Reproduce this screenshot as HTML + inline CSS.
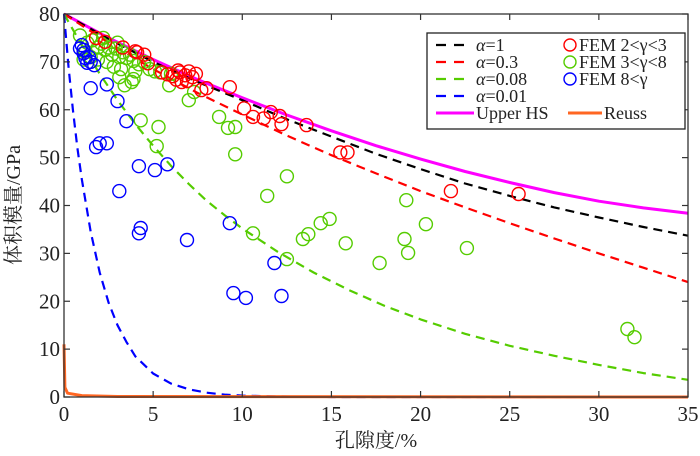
<!DOCTYPE html>
<html><head><meta charset="utf-8">
<style>
html,body{margin:0;padding:0;background:#fff;}
svg, svg text{font-family:"Liberation Serif","Times New Roman","DejaVu Serif","Noto Serif CJK SC",serif;}
svg{display:block;}
</style></head>
<body>
<svg id="chart" width="700" height="456" viewBox="0 0 700 456" font-family="Liberation Serif, Times New Roman, DejaVu Serif, Noto Serif CJK SC, serif">
  <g id="curves"></g>
  <g id="points"></g>
  <g id="axes"></g>
  <g id="legend"></g>
</svg>
<script>
// ---- data ----
const xTicks = [0,5,10,15,20,25,30,35];
const yTicks = [0,10,20,30,40,50,60,70,80];

const hsX = [0,2.5,5,7.5,10,12.5,15,17.5,20,22.5,25,27.5,30,32.5,35];
const hsY = [80,75,70.5,66.3,62.5,58.9,55.6,52.5,49.7,47.1,44.8,42.7,40.9,39.5,38.4];
const a1X = [0,2.5,5,7.5,10,12.5,15,17.5,20,22.5,25,27.5,30,32.5,35];
const a1Y = [80,74.8,70,65.8,62,58,54.4,50.8,47.6,44.6,42,39.6,37.5,35.5,33.7];
const a03X = [0,2.5,5,7.5,10,12.5,15,17.5,20,22.5,25,27.5,30,32.5,35];
const a03Y = [80,74,68.5,63.5,59,54.6,50.5,46.7,43,39.6,36.3,33.1,30,27,24];
const a008X = [0,1,2,3,4,5,6,7,8,9,10,12,14,16,18,20,22.5,25,27.5,30,32.5,35];
const a008Y = [80,73.5,67.5,62,57,52.5,48.3,44.5,41,38,35.2,30.3,26,22.3,19,16.2,13.2,10.7,8.6,6.7,5,3.6];
const a001X = [0,0.25,0.5,0.75,1,1.5,2,2.5,3,3.5,4,5,6,7,8,9,10,12,15,35];
const a001Y = [80,69,60,52,45.5,34.5,26,19.7,15,11.5,8.5,4.9,2.8,1.6,0.9,0.5,0.3,0.1,0,0];
const reussX = [0,0.05,0.2,1,3,35];
const reussY = [11,2,0.8,0.3,0.1,0];

const redX = [1.8,2.3,3.3,4.0,4.1,4.5,4.7,5.5,5.8,6.1,6.3,6.5,6.6,6.8,6.9,7.0,7.2,7.4,6.4,7.7,8.0,9.3,10.1,10.6,11.2,11.6,12.1,12.2,13.6,15.5,15.9,21.7,25.5];
const redY = [75,74.2,73,72.2,72,71.5,69.7,67.8,67.4,67,66.3,67.8,65.8,67.2,66,68,66.8,67.5,68.2,64.1,64.5,64.7,60.3,58.5,58.2,59.5,58.7,57,56.8,51.1,51.1,43.0,42.4];

const greenX = [0.9,1.3,1.6,1.9,2.1,2.3,2.5,2.7,2.9,3.1,3.3,3.5,3.7,3.9,4.2,4.5,4.8,5.1,5.4,1.2,1.5,1.9,2.4,2.8,3.2,1.1,4.0,2.2,3.0,6.0,3.4,3.9,5.9,7.0,7.3,8.7,9.2,9.6,4.3,5.3,3.1,3.8,5.2,9.6,12.5,11.4,10.6,13.4,13.7,14.4,14.9,15.8,12.5,19.2,20.3,19.1,19.3,22.6,17.7,31.6,32.0];
const greenY = [75.5,74,74.5,73,73.8,72.5,73,71.5,72.8,71,72,70.8,71.5,70.2,69.5,70,68.5,68,67.8,72,71,70.5,70,69,68.5,70.5,68,75,74,67.5,65.1,66.4,65.1,62,63.7,58.5,56.2,56.4,57.8,56.4,66.8,65.8,52.4,50.7,46.1,42.0,34.2,33,34,36.3,37.2,32.1,28.8,41.1,36.1,33,30.1,31.1,28,14.2,12.5];

const blueX = [1.0,1.1,1.1,1.2,1.3,1.5,1.7,0.9,1.4,1.5,2.4,3.0,3.5,1.8,2.0,2.4,4.2,5.1,5.8,3.1,4.3,4.2,6.9,9.3,11.8,9.5,10.2,12.2];
const blueY = [73.5,72.5,71.8,70.8,69.8,70,69.3,72.8,71,64.5,65.3,61.8,57.6,52.2,53,53,48.2,47.4,48.6,43,35.3,34.2,32.8,36.3,28,21.7,20.7,21.1];

// ---- scales ----
const X0=64, X1=688, Y0=397, Y1=14;
const sx = v => X0 + (v-0)/35*(X1-X0);
const sy = v => Y0 - v/80*(Y0-Y1);
const NS='http://www.w3.org/2000/svg';
const FF='Liberation Serif, Times New Roman, DejaVu Serif, Noto Serif CJK SC, serif';
function mk(tag, attrs, parent){const e=document.createElementNS(NS,tag);for(const k in attrs)e.setAttribute(k,attrs[k]);if(tag==='text')e.setAttribute('font-family',FF);parent.appendChild(e);return e;}

const curves=document.getElementById('curves');
function line(xs,ys,color,dash,name,w){
  const d=xs.map((x,i)=>(i?'L':'M')+sx(x).toFixed(1)+','+sy(ys[i]).toFixed(1)).join('');
  const p=mk('path',{d:d,fill:'none',stroke:color,'stroke-width':w||2.2,'stroke-dasharray':dash||'none','stroke-linejoin':'round'},curves);
  
  
}
line(hsX,hsY,'#ff00ff',null,'upper-hs-line',3);
line(a1X,a1Y,'#000000','9,6','alpha-1-line');
line(a03X,a03Y,'#ff0000','9,6','alpha-0.3-line');
line(a008X,a008Y,'#55cc00','9,6','alpha-0.08-line');
line(a001X,a001Y,'#0000ff','9,6','alpha-0.01-line');
line(reussX,reussY,'#ff6622',null,'reuss-line',3);

const pts=document.getElementById('points');
function scatter(xs,ys,color,name){
  xs.forEach((x,i)=>{
    const c=mk('circle',{cx:sx(x).toFixed(1),cy:sy(ys[i]).toFixed(1),r:6.5,fill:'none',stroke:color,'stroke-width':1.4},pts);
    
    
  });
}
scatter(greenX,greenY,'#55cc00','fem-3-8-point');
scatter(redX,redY,'#ff0000','fem-2-3-point');
scatter(blueX,blueY,'#0000ff','fem-8-point');

// axes
const ax=document.getElementById('axes');
const frame=mk('rect',{x:X0,y:Y1,width:X1-X0,height:Y0-Y1,fill:'none',stroke:'#333','stroke-width':1.3},ax);


xTicks.forEach(t=>{
  const x=sx(t);
  mk('line',{x1:x,x2:x,y1:Y0,y2:Y0-6,stroke:'#333','stroke-width':1.2},ax);
  mk('line',{x1:x,x2:x,y1:Y1,y2:Y1+6,stroke:'#333','stroke-width':1.2},ax);
  const tx=mk('text',{x:x,y:Y0+24,'text-anchor':'middle','font-size':21,fill:'#222'},ax);
  tx.textContent=t;
  
  
});
yTicks.forEach(t=>{
  const y=sy(t);
  mk('line',{x1:X0,x2:X0+6,y1:y,y2:y,stroke:'#333','stroke-width':1.2},ax);
  mk('line',{x1:X1,x2:X1-6,y1:y,y2:y,stroke:'#333','stroke-width':1.2},ax);
  const tx=mk('text',{x:X0-4,y:y+7,'text-anchor':'end','font-size':21,fill:'#222'},ax);
  tx.textContent=t;
  
  
});
const xt=mk('text',{x:376,y:447,'text-anchor':'middle','font-size':20,fill:'#222'},ax);
xt.textContent='孔隙度/%';


const yt=mk('text',{x:0,y:0,'text-anchor':'middle','font-size':20,fill:'#222',transform:'translate(20,205) rotate(-90)'},ax);
yt.textContent='体积模量/GPa';



// legend
const lg=document.getElementById('legend');
const box=mk('rect',{x:427,y:33,width:258,height:96,fill:'#fff',stroke:'#222','stroke-width':1.3},lg);


const lineEntries=[['=1','#000'],['=0.3','#ff0000'],['=0.08','#55cc00'],['=0.01','#0000ff']];
lineEntries.forEach((e,i)=>{
  const y=45+i*17;
  const g=mk('g',{},lg);
  
  
  mk('line',{x1:436,x2:472,y1:y,y2:y,stroke:e[1],'stroke-width':2.2,'stroke-dasharray':'10,8'},g);
  const t=mk('text',{x:476,y:y+6,'font-size':18,fill:'#222'},g);
  const a=mk('tspan',{'font-style':'italic'},t);
  a.textContent='α';
  const b=mk('tspan',{},t);
  b.textContent=e[0];
});
const ptEntries=[['FEM 2<γ<3','#ff0000'],['FEM 3<γ<8','#55cc00'],['FEM 8<γ','#0000ff']];
ptEntries.forEach((e,i)=>{
  const y=45+i*17;
  const g=mk('g',{},lg);
  
  
  mk('circle',{cx:570,cy:y,r:6,fill:'none',stroke:e[1],'stroke-width':1.4},g);
  const t=mk('text',{x:579,y:y+6,'font-size':18,fill:'#222'},g);
  t.textContent=e[0];
});
[['Upper HS','#ff00ff',436,474],['Reuss','#ff6622',568,602]].forEach(e=>{
  const y=113;
  const g=mk('g',{},lg);
  
  
  mk('line',{x1:e[2],x2:e[3],y1:y,y2:y,stroke:e[1],'stroke-width':3},g);
  const t=mk('text',{x:e[3]+2,y:y+6,'font-size':18,fill:'#222'},g);
  t.textContent=e[0];
});
</script>
</body></html>
